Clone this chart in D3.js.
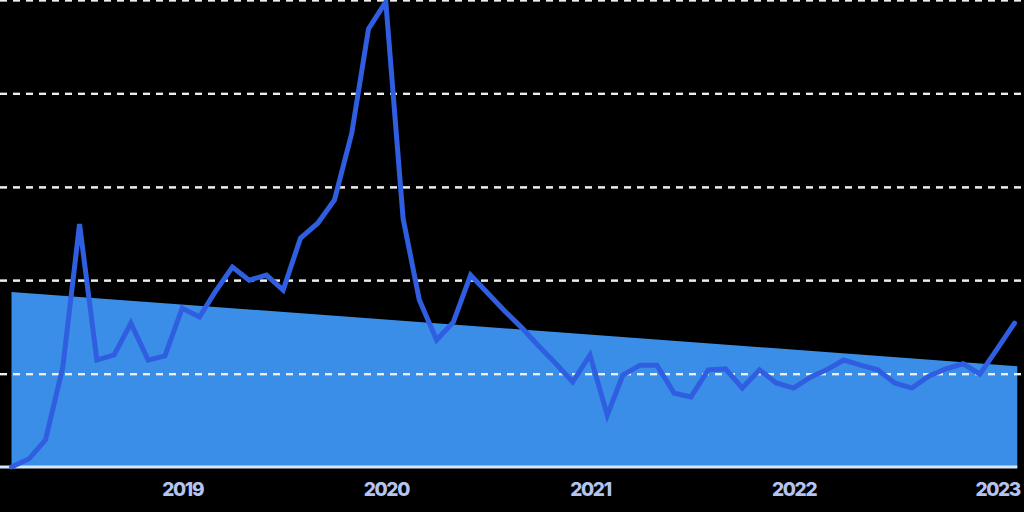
<!DOCTYPE html>
<html>
<head>
<meta charset="utf-8">
<script src="https://cdn.jsdelivr.net/npm/d3@7"></script>
<style>
  html, body { margin: 0; padding: 0; background: #000; }
  svg { display: block; }
</style>
</head>
<body>
<div id="chart"></div>
<script>
// monthly values, March 2018 .. February 2023
const startMonth = "2018-03";
const values = [
    0, 1.7, 5.8, 21.4, 52.0, 22.9, 24.0, 30.8, 22.9, 23.8,
    34.0, 32.1, 37.5, 42.8, 40.0, 41.1, 37.9, 49.0, 52.2, 57.2, 71.5, 93.8,
    99.6, 53.2, 35.8, 27.2, 31.0, 41.1, 37.3, 33.4, 29.8, 25.9, 22.1, 18.2,
    24.0, 11.1, 19.7, 21.8, 21.8, 15.8, 15.0, 20.8, 21.0, 16.9, 20.8, 18.0,
    16.9, 19.3, 20.8, 22.9, 21.8, 20.8, 18.0, 16.9, 19.5, 21.0, 22.1, 19.9,
    25.3, 30.8
];
// shaded trend band (start and end of the period)
const trendDates = ["2018-03-01", "2023-02-06"];
const trendValues = [37.5, 21.6];
const gridValues = [20, 40, 60, 80, 100];
const tickYears = ["2019", "2020", "2021", "2022", "2023"];

const width = 1024,
    height = 512,
    baseline = 467;

const parseMonth = d3.timeParse("%Y-%m");
const start = parseMonth(startMonth);
const data = values.map((v, i) => ({
    date: d3.timeMonth.offset(start, i),
    value: v
}));
const trend = trendDates.map((d, i) => ({
    date: d3.timeParse("%Y-%m-%d")(d),
    value: trendValues[i]
}));

let svg = d3
    .select("#chart")
    .append("svg")
    .attr("width", width)
    .attr("height", height);

const x = d3.scaleTime()
    .domain([data[0].date, data[data.length - 1].date])
    .range([11.5, 1014.5]);

const y = d3.scaleLinear()
    .domain([0, 100])
    .range([baseline, 0]);

// trend area
const area = d3.area()
    .x(d => x(d.date))
    .y0(y(0))
    .y1(d => y(d.value));

svg.append("path")
    .datum(trend)
    .attr("d", area)
    .attr("fill", "#3a8ee8");

// clip for the part of the grid that sits on black
svg.append("defs")
    .append("clipPath")
    .attr("id", "aboveTrend")
    .append("path")
    .attr("d", "M-5,-5H" + (width + 5) + "V" + (baseline + 5) + "H" + x(trend[1].date) +
        "V" + y(trend[1].value) + "L" + x(trend[0].date) + "," + y(trend[0].value) +
        "V" + (baseline + 5) + "H-5Z");

// dashed grid lines, full width
const grid = d3.axisLeft(y)
    .tickValues(gridValues)
    .tickSize(-width)
    .tickFormat("");

const gridG = svg.append("g")
    .call(grid);
gridG.select(".domain").remove();
gridG.selectAll(".tick line")
    .attr("x1", 0)
    .attr("x2", width)
    .attr("stroke", "#fff")
    .attr("stroke-opacity", 0.55)
    .attr("stroke-width", 2.2)
    .attr("stroke-dasharray", "7,6");

gridG.selectAll(".tick line").clone()
    .attr("stroke", "#ededed")
    .attr("stroke-opacity", 1)
    .attr("clip-path", "url(#aboveTrend)");

// x axis: baseline + year labels
const xAxis = d3.axisBottom(x)
    .tickValues(tickYears.map(t => d3.timeParse("%Y")(t)))
    .tickSize(0)
    .tickPadding(16)
    .tickFormat(d3.timeFormat("%Y"));

let xDisplay = svg.append("g")
    .attr("class", "axis x-axis")
    .attr("transform", `translate(0,${baseline})`)
    .call(xAxis);

xDisplay.select(".domain")
    .attr("d", `M0,0H${x(trend[1].date)}`)
    .attr("stroke", "#d6e6fb")
    .attr("stroke-width", 3);

xDisplay.selectAll("text")
    .attr("fill", "#b4c4ee")
    .attr("font-family", "Inter, 'DejaVu Sans', sans-serif")
    .attr("font-weight", 800)
    .attr("font-size", 19)
    .attr("letter-spacing", -1.3);

// main line
const line = d3.line()
    .x(d => x(d.date))
    .y(d => y(d.value));

svg.append("path")
    .datum(data)
    .attr("d", line)
    .attr("fill", "none")
    .attr("stroke", "#2f5fe0")
    .attr("stroke-width", 5)
    .attr("stroke-linejoin", "miter")
    .attr("stroke-linecap", "round");
</script>
</body>
</html>
